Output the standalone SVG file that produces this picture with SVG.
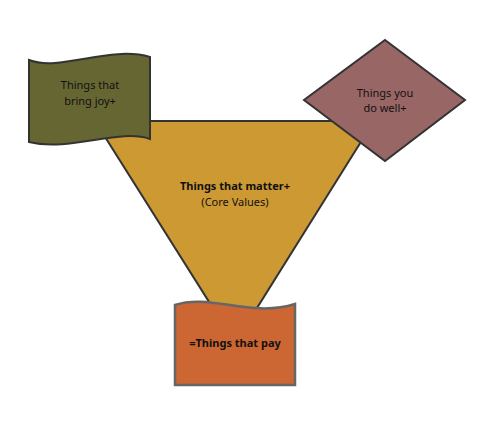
<svg xmlns="http://www.w3.org/2000/svg" width="492" height="424" viewBox="0 0 492 424">
<style>
.lbl{font-family:"Noto Sans","Open Sans","Liberation Sans",sans-serif;font-size:11px;fill:#111;text-anchor:middle}
.b{font-weight:bold}
.edge{stroke:#333;stroke-width:2;stroke-linejoin:miter}
</style>
<rect width="492" height="424" fill="#fff"/>
<g id="connectors"></g>
<g id="core">
<path class="edge" d="M95,121 L374,121 L235,343 Z" fill="#CC9933"/>
<text class="lbl b" x="235" y="190">Things that matter+</text>
<text class="lbl" x="235" y="206">(Core Values)</text>
</g>
<g id="joy">
<path class="edge" d="M29,60 C60,72 110,45 150,57 L150,139 C120,128 70,152 29,142 Z" fill="#666633"/>
<text class="lbl" x="90" y="89">Things that</text>
<text class="lbl" x="90" y="105">bring joy+</text>
</g>
<g id="well">
<path class="edge" d="M385,40 L465,100 L385,161 L304,100 Z" fill="#996666"/>
<text class="lbl" x="385" y="97">Things you</text>
<text class="lbl" x="385" y="112">do well+</text>
</g>
<g id="pay">
<path d="M175,305 C210,293 250,318 295,304 L295,385 L175,385 Z" fill="#CC6633" stroke="#666" stroke-width="2.5"/>
<text class="lbl b" x="235" y="347">=Things that pay</text>
</g>
</svg>
